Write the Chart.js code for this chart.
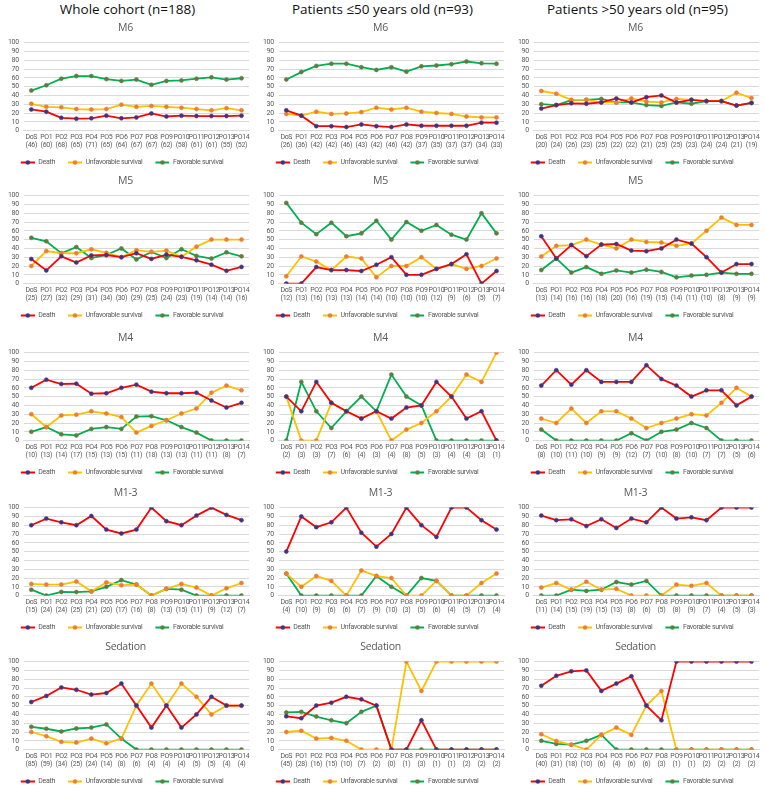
<!DOCTYPE html>
<html><head><meta charset="utf-8">
<script src="https://cdn.jsdelivr.net/npm/chart.js@4"></script>
<style>
body{margin:0;width:765px;height:786px;background:#fff;position:relative;overflow:hidden;font-family:"Open Sans",sans-serif}
.hdr{position:absolute;top:0;width:255px;text-align:center;font-size:13.5px;color:#111;line-height:18px}
.pan{position:absolute;width:255px;height:158px}
</style></head><body>
<div class="hdr" style="left:0">Whole cohort (n=188)</div>
<div class="hdr" style="left:255px">Patients ≤50 years old (n=93)</div>
<div class="hdr" style="left:510px">Patients &gt;50 years old (n=95)</div>
<script>
const timepoints = ['DoS','PO1','PO2','PO3','PO4','PO5','PO6','PO7','PO8','PO9','PO10','PO11','PO12','PO13','PO14'];
const seriesNames = ['Death','Unfavorable survival','Favorable survival'];
const rowTitles = ['M6','M5','M4','M1-3','Sedation'];

// M6
const m6_all_n = [46,60,68,65,71,65,64,67,67,62,58,61,61,55,52];
const m6_all_death = [24,21.5,14.5,13.5,14,17,14,15,19.5,16,17,16.5,16.5,16.5,17];
const m6_all_unfav = [30.5,27,26.5,24.5,24,24.5,29.5,27,28,27,26,24.5,23,25.5,23];
const m6_all_fav = [45.5,51.5,59,62,62,58.5,56.5,58,52,56.5,57,59,60.5,58,59.5];
const m6_young_n = [26,36,42,42,46,43,42,46,42,37,35,37,37,34,33];
const m6_young_death = [23,17,5,5,4,7,5,4,7,5.5,5.5,5.5,5.5,9,9];
const m6_young_unfav = [19,17,21.5,19,19.5,21,26,24,26,21.5,20,19,16,15,15];
const m6_young_fav = [58,66.5,73.5,76,76,72,69,72,67,73,74,75.5,78.5,76.5,76];
const m6_old_n = [20,24,26,23,25,22,22,21,25,25,23,24,24,21,19];
const m6_old_death = [25,29,31,30.5,32,36.5,32,38,40,32,35,33.5,33.5,28.5,31.5];
const m6_old_unfav = [45,42,35,35,32,32,36.5,33,32,36,35,33.5,33.5,43,37];
const m6_old_fav = [30,29,34.5,35,36,32,32,29,28,32,30.5,33.5,33.5,28.5,31.5];
// M5
const m5_all_n = [25,27,32,29,31,34,30,29,25,24,23,19,14,14,16];
const m5_all_death = [28,15,31,24,32,32.5,30,34.5,28,33,30.5,26.5,21.5,14.5,19];
const m5_all_unfav = [20,37,34.5,34.5,39,35,30,38,36,37.5,30.5,42,50,50,50];
const m5_all_fav = [52,48,34.5,41.5,29,32.5,40,27.5,36,29,39,31.5,28.5,35.5,31];
const m5_young_n = [12,13,16,13,13,14,14,10,10,10,12,9,6,5,7];
const m5_young_death = [0,0,18.8,15.4,15.4,14.3,21.4,30,10,10,16.7,22.2,33.3,0,14.3];
const m5_young_unfav = [8.3,30.8,25,15.4,30.8,28.6,7.1,20,20,30,16.7,22.2,16.7,20,28.6];
const m5_young_fav = [91.7,69.2,56.2,69.2,53.8,57.1,71.4,50,70,60,66.7,55.6,50,80,57.1];
const m5_old_n = [13,14,16,16,18,20,16,19,15,14,11,10,8,9,9];
const m5_old_death = [53.8,28.6,43.8,31.2,44.4,45,37.5,36.8,40,50,45.5,30,12.5,22.2,22.2];
const m5_old_unfav = [30.8,42.9,43.8,50,44.4,40,50,47.4,46.7,42.9,45.5,60,75,66.7,66.7];
const m5_old_fav = [15.4,28.6,12.5,18.8,11.1,15,12.5,15.8,13.3,7.1,9.1,10,12.5,11.1,11.1];
// M4
const m4_all_n = [10,13,14,17,15,13,15,11,18,13,13,11,11,8,7];
const m4_all_death = [60,69.2,64.3,64.7,53.3,53.8,60,63.6,55.6,53.8,53.8,54.5,45.5,37.5,42.9];
const m4_all_unfav = [30,15.4,28.6,29.4,33.3,30.8,26.7,9.1,16.7,23.1,30.8,36.4,54.5,62.5,57.1];
const m4_all_fav = [10,15.4,7.1,5.9,13.3,15.4,13.3,27.3,27.8,23.1,15.4,9.1,0,0,0];
const m4_young_n = [2,3,3,7,6,4,3,4,8,5,3,4,4,3,1];
const m4_young_death = [50,33.3,66.7,42.9,33.3,25,33.3,25,37.5,40,66.7,50,25,33.3,0];
const m4_young_unfav = [50,0,0,42.9,33.3,25,33.3,0,12.5,20,33.3,50,75,66.7,100];
const m4_young_fav = [0,66.7,33.3,14.3,33.3,50,33.3,75,50,40,0,0,0,0,0];
const m4_old_n = [8,10,11,10,9,9,12,7,10,8,10,7,7,5,6];
const m4_old_death = [62.5,80,63.6,80,66.7,66.7,66.7,85.7,70,62.5,50,57.1,57.1,40,50];
const m4_old_unfav = [25,20,36.4,20,33.3,33.3,25,14.3,20,25,30,28.6,42.9,60,50];
const m4_old_fav = [12.5,0,0,0,0,0,8.3,0,10,12.5,20,14.3,0,0,0];
// M1-3
const m13_all_n = [15,24,24,25,21,20,17,16,8,13,15,11,9,12,7];
const m13_all_death = [80,87.5,83.3,80,90.5,75,70.6,75,100,84.6,80,90.9,100,91.7,85.7];
const m13_all_unfav = [13.3,12.5,12.5,16,4.8,15,11.8,12.5,0,7.7,13.3,9.1,0,8.3,14.3];
const m13_all_fav = [6.7,0,4.2,4,4.8,10,17.6,12.5,0,7.7,6.7,0,0,0,0];
const m13_young_n = [4,10,9,6,6,7,9,10,3,5,6,4,5,7,4];
const m13_young_death = [50,90,77.8,83.3,100,71.4,55.6,70,100,80,66.7,100,100,85.7,75];
const m13_young_unfav = [25,10,22.2,16.7,0,28.6,22.2,20,0,0,16.7,0,0,14.3,25];
const m13_young_fav = [25,0,0,0,0,0,22.2,10,0,20,16.7,0,0,0,0];
const m13_old_n = [11,14,15,19,15,13,8,6,5,8,9,7,4,5,3];
const m13_old_death = [90.9,85.7,86.7,79,86.7,76.9,87.5,83.3,100,87.5,88.9,85.7,100,100,100];
const m13_old_unfav = [9.1,14.3,6.7,15.8,6.7,7.7,0,0,0,12.5,11.1,14.3,0,0,0];
const m13_old_fav = [0,0,6.7,5.3,6.7,15.4,12.5,16.7,0,0,0,0,0,0,0];
// Sedation
const sed_all_n = [85,59,34,25,24,14,8,6,4,4,4,5,5,4,4];
const sed_all_death = [54.1,61,70.6,68,62.5,64.3,75,50,25,50,25,40,60,50,50];
const sed_all_unfav = [20,15.3,8.8,8,12.5,7.1,12.5,50,75,50,75,60,40,50,50];
const sed_all_fav = [25.9,23.7,20.6,24,25,28.6,12.5,0,0,0,0,0,0,0,0];
const sed_young_n = [45,28,16,15,10,7,2,0,1,3,1,1,2,2,2];
const sed_young_death = [37.8,35.7,50,53.3,60,57.1,50,0,0,33.3,0,0,0,0,0];
const sed_young_unfav = [20,21.4,12.5,13.3,10,0,0,0,100,66.7,100,100,100,100,100];
const sed_young_fav = [42.2,42.9,37.5,33.3,30,42.9,50,0,0,0,0,0,0,0,0];
const sed_old_n = [40,31,18,10,6,4,6,6,3,1,1,2,2,2,2];
const sed_old_death = [72.5,83.9,88.9,90,66.7,75,83.3,50,33.3,100,100,100,100,100,100];
const sed_old_unfav = [17.5,9.7,5.6,0,16.7,25,16.7,50,66.7,0,0,0,0,0,0];
const sed_old_fav = [10,6.5,5.6,10,16.7,0,0,0,0,0,0,0,0,0,0];

const panels = [
  [m6_all_n,m6_all_death,m6_all_unfav,m6_all_fav],[m6_young_n,m6_young_death,m6_young_unfav,m6_young_fav],[m6_old_n,m6_old_death,m6_old_unfav,m6_old_fav],
  [m5_all_n,m5_all_death,m5_all_unfav,m5_all_fav],[m5_young_n,m5_young_death,m5_young_unfav,m5_young_fav],[m5_old_n,m5_old_death,m5_old_unfav,m5_old_fav],
  [m4_all_n,m4_all_death,m4_all_unfav,m4_all_fav],[m4_young_n,m4_young_death,m4_young_unfav,m4_young_fav],[m4_old_n,m4_old_death,m4_old_unfav,m4_old_fav],
  [m13_all_n,m13_all_death,m13_all_unfav,m13_all_fav],[m13_young_n,m13_young_death,m13_young_unfav,m13_young_fav],[m13_old_n,m13_old_death,m13_old_unfav,m13_old_fav],
  [sed_all_n,sed_all_death,sed_all_unfav,sed_all_fav],[sed_young_n,sed_young_death,sed_young_unfav,sed_young_fav],[sed_old_n,sed_old_death,sed_old_unfav,sed_old_fav]
];

const lineColors = ['#FF0000','#FFC000','#00B050'];
const markerFill = ['#2E3A87','#ED7D31','#5E7D3E'];
const markerBorder = ['#6A3070','#ED7D31','#5E7D3E'];
const rowTops = [18,171,328,483,637];
const FONT = '"Open Sans", "Liberation Sans", sans-serif';
const SMALL = 'Roboto, sans-serif';

function legendIcon(i){
  const c = document.createElement('canvas');
  c.width = 20; c.height = 7;
  const x = c.getContext('2d');
  x.strokeStyle = lineColors[i]; x.lineWidth = 2;
  x.beginPath(); x.moveTo(6,3.5); x.lineTo(20,3.5); x.stroke();
  x.fillStyle = markerFill[i];
  x.beginPath(); x.arc(13,3.5,2.2,0,Math.PI*2); x.fill();
  return c;
}
const icons = [legendIcon(0),legendIcon(1),legendIcon(2)];

const condense = {
  id: 'condense',
  beforeInit(chart){ try { chart.ctx.letterSpacing = '-0.3px'; } catch(e){} },
  beforeDraw(chart){ try { chart.ctx.letterSpacing = '-0.3px'; } catch(e){} }
};

panels.forEach((p, idx) => {
  const row = Math.floor(idx/3), col = idx%3;
  const div = document.createElement('div');
  div.className = 'pan';
  div.style.left = (col*255)+'px';
  div.style.top = rowTops[row]+'px';
  const cv = document.createElement('canvas');
  cv.width = 255; cv.height = 158;
  div.appendChild(cv);
  document.body.appendChild(div);
  const labels = timepoints.map((t,i)=>[t,'('+p[0][i]+')']);
  new Chart(cv, {
    type: 'line',
    plugins: [condense],
    data: {
      labels: labels,
      datasets: [1,2,3].map((k,j)=>({
        label: seriesNames[j],
        data: p[k],
        borderColor: lineColors[j],
        backgroundColor: lineColors[j],
        borderWidth: 1.8,
        pointRadius: 2,
        pointBackgroundColor: markerFill[j],
        pointBorderColor: markerBorder[j],
        pointBorderWidth: 0.6,
        tension: 0
      }))
    },
    options: {
      responsive: false,
      animation: false,
      devicePixelRatio: 1,
      layout: { padding: { left: 2, right: 6, top: 0, bottom: 0 } },
      plugins: {
        title: { display: true, text: rowTitles[row], color: '#595959', font: { family: FONT, size: 10.5, weight: 'normal' }, padding: { top: 4, bottom: 8 } },
        legend: {
          position: 'bottom',
          labels: {
            usePointStyle: true, pointStyleWidth: 20, boxHeight: 7,
            color: '#595959', font: { family: SMALL, size: 7 }, padding: 7,
            generateLabels: (chart) => Chart.defaults.plugins.legend.labels.generateLabels(chart).map((l,i)=>Object.assign(l,{pointStyle: icons[i]}))
          }
        },
        tooltip: { enabled: false }
      },
      scales: {
        x: {
          offset: true,
          grid: { display: false, drawTicks: false },
          border: { display: true, color: '#D9D9D9' },
          ticks: { color: '#595959', font: { family: SMALL, size: 7, lineHeight: 1.1 }, autoSkip: false, maxRotation: 0, minRotation: 0, padding: 3 }
        },
        y: {
          min: 0, max: 100,
          grid: { color: '#D9D9D9', drawTicks: false },
          border: { display: false },
          ticks: { stepSize: 10, autoSkip: false, color: '#595959', font: { family: SMALL, size: 7 }, padding: 5 }
        }
      }
    }
  });
});
</script>
</body></html>
